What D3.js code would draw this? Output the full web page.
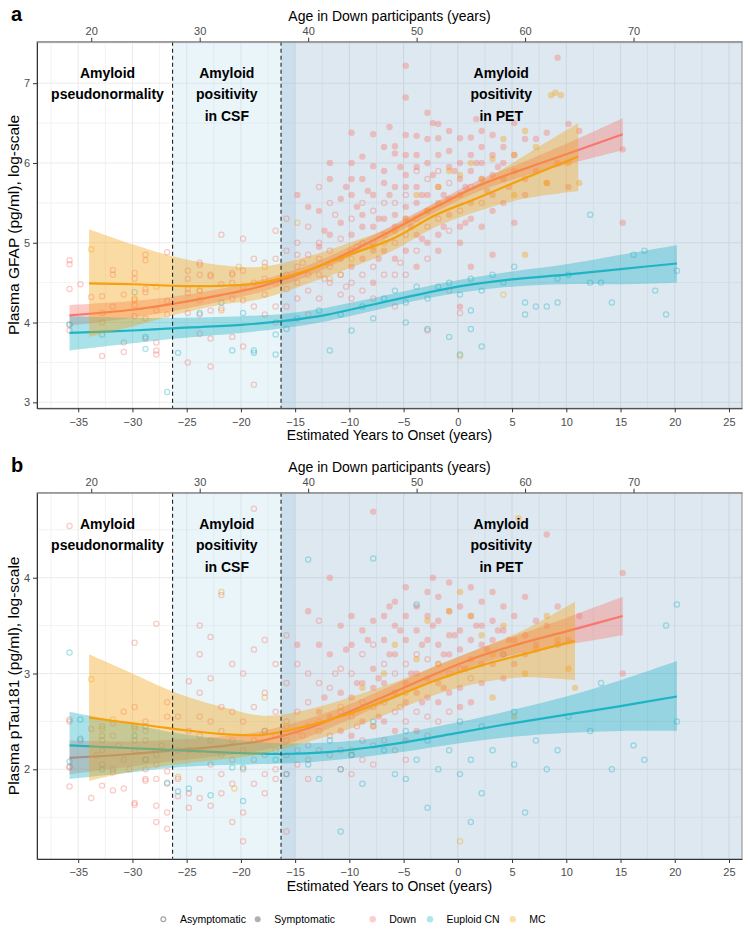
<!DOCTYPE html>
<html>
<head>
<meta charset="utf-8">
<script src="https://cdn.jsdelivr.net/npm/d3@7"></script>
<style>
  body { margin: 0; background: #fff; }
  text { font-family: "Liberation Sans", Arial, Helvetica, sans-serif; }
</style>
</head>
<body>
<svg id="chart" width="750" height="938"></svg>
<script>
// ---- data (estimated years to onset, value, symptomatic 0/1) ----
const onsetAge = 53.8;
const eyoTicks = [-35, -30, -25, -20, -15, -10, -5, 0, 5, 10, 15, 20, 25];
const ageTicks = [20, 30, 40, 50, 60, 70];
const stageCuts = [-26.3, -16.3];
const groups = ["Down", "Euploid CN", "MC"];
const groupColors = ["#F8766D", "#1FB4C4", "#F5A00F"];

const gfapDown = [
[-35.8,4.78,0],[-35.8,4.73,0],[-35.8,4.42,0],[-35.8,3.97,0],[-35.8,3.9,0],[-34.8,4.48,0],[-33.8,4.32,0],
[-32.8,4.33,0],[-32.8,3.58,0],[-32.8,4.12,0],[-31.8,4.66,0],[-31.8,4.6,0],[-31.8,4.2,0],[-30.8,4.35,0],
[-30.8,3.63,0],[-30.8,3.75,0],[-29.8,4.62,0],[-29.8,4.55,0],[-29.8,4.28,0],[-29.8,4.22,0],[-29.8,4.08,0],
[-28.8,4.85,0],[-28.8,4.78,0],[-28.8,4.42,0],[-28.8,4.38,0],[-28.8,4.05,0],[-28.8,3.8,0],[-27.8,4.15,0],
[-27.8,3.75,0],[-27.8,3.6,0],[-27.8,3.65,0],[-26.8,4.88,0],[-26.8,4.1,0],[-26.8,4.27,0],
[-24.9,4.65,0],[-24.9,4.55,0],[-24.9,4.37,0],[-24.9,4.12,0],[-24.9,3.5,0],[-24.9,4.42,0],
[-23.8,4.75,0],[-23.8,4.72,0],[-23.8,4.6,0],[-23.8,4.4,0],[-23.8,4.28,0],[-23.8,3.86,0],[-23.8,4.1,0],
[-22.8,4.6,0],[-22.8,4.58,0],[-22.8,4.15,0],[-22.8,3.8,0],[-22.8,3.45,0],
[-21.8,4.48,0],[-21.8,4.18,0],[-21.8,5.1,0],[-20.8,4.62,0],[-20.8,4.6,0],[-20.8,4.5,0],[-20.8,3.82,0],[-20.8,4.3,0],
[-19.8,4.65,0],[-19.8,4.28,0],[-19.8,3.7,0],[-19.8,5.05,0],[-19.8,4.45,0],[-18.8,4.5,0],[-18.8,3.22,0],
[-18.8,4.2,0],[-18.8,4.8,0],[-17.8,4.75,0],[-17.8,4.55,0],[-17.8,4.1,0],[-17.8,4.35,0],
[-16.8,4.8,0],[-16.8,4.5,0],[-16.8,4.2,0],[-16.8,4.0,0],[-16.8,5.15,0],
[-15.8,4.9,0],[-15.8,4.6,0],[-15.8,4.42,0],[-15.8,4.2,0],[-15.8,5.3,0],
[-14.8,5.0,0],[-14.8,4.7,0],[-14.8,4.5,0],[-14.8,4.3,0],[-14.8,5.6,1],[-14.8,4.85,0],[-14.3,4.75,0],
[-13.8,5.2,0],[-13.8,4.85,0],[-13.8,4.6,0],[-13.8,4.4,0],[-13.8,4.1,0],[-13.8,5.45,1],
[-12.8,5.4,1],[-12.8,5.0,0],[-12.8,4.8,0],[-12.8,4.6,0],[-12.8,4.3,0],[-12.8,5.7,0],[-12.8,4.95,1],
[-12.3,5.15,1],[-12.3,4.55,0],
[-11.8,5.8,1],[-11.8,5.5,0],[-11.8,5.1,1],[-11.8,4.9,0],[-11.8,4.7,0],[-11.8,4.5,0],[-11.8,6.0,1],[-11.3,5.35,0],
[-10.8,5.25,1],[-10.8,5.05,0],[-10.8,4.8,1],[-10.8,4.6,0],[-10.8,4.35,0],[-10.8,5.55,1],[-10.3,5.7,1],[-10.3,4.45,0],
[-9.8,6.38,1],[-9.8,6.0,1],[-9.8,5.6,1],[-9.8,5.3,0],[-9.8,5.1,1],[-9.8,4.9,0],[-9.8,4.7,1],[-9.8,4.5,0],[-9.8,4.3,0],[-9.8,5.8,1],
[-9.3,5.45,1],[-9.3,4.95,0],
[-8.8,6.08,1],[-8.8,5.8,1],[-8.8,5.5,0],[-8.8,5.2,1],[-8.8,5.0,0],[-8.8,4.8,1],[-8.8,4.6,0],[-8.8,4.4,0],[-8.8,5.35,1],[-8.3,5.65,1],
[-7.8,6.36,1],[-7.8,5.96,1],[-7.8,5.6,1],[-7.8,5.4,0],[-7.8,5.2,1],[-7.8,5.0,0],[-7.8,4.9,1],[-7.8,4.7,0],[-7.8,4.5,1],[-7.8,4.3,0],
[-7.3,5.3,1],[-7.3,4.8,1],
[-6.8,6.2,1],[-6.8,5.75,1],[-6.8,5.5,0],[-6.8,5.3,1],[-6.8,5.1,0],[-6.8,4.9,1],[-6.8,4.6,0],[-6.8,5.9,1],[-6.3,5.6,1],[-6.3,6.45,1],
[-5.8,6.21,1],[-5.8,6.12,1],[-5.8,5.7,1],[-5.8,5.5,0],[-5.8,5.35,1],[-5.8,5.2,1],[-5.8,5.0,0],[-5.8,4.8,1],[-5.8,4.6,0],[-5.8,4.2,0],
[-5.3,5.95,1],[-5.3,4.75,0],
[-4.8,7.22,1],[-4.8,6.82,1],[-4.8,6.35,1],[-4.8,6.1,1],[-4.8,5.85,1],[-4.8,5.6,0],[-4.8,5.45,1],[-4.8,5.3,1],[-4.8,5.1,0],[-4.8,4.9,1],[-4.8,4.6,0],[-4.8,5.7,1],
[-4.3,5.2,1],
[-3.8,6.34,1],[-3.8,6.1,1],[-3.8,5.9,0],[-3.8,5.7,1],[-3.8,5.5,1],[-3.8,5.3,0],[-3.8,5.1,1],[-3.8,4.9,0],[-3.8,4.7,1],[-3.8,5.95,1],
[-3.3,5.6,1],[-3.3,5.05,1],
[-2.8,6.63,1],[-2.8,6.3,1],[-2.8,6.0,1],[-2.8,5.8,0],[-2.8,5.6,1],[-2.8,5.4,1],[-2.8,5.2,0],[-2.8,5.0,1],[-2.8,4.8,0],[-2.8,3.9,0],
[-2.3,5.85,1],[-2.3,6.5,1],
[-1.8,6.49,1],[-1.8,6.31,1],[-1.8,6.1,1],[-1.8,5.9,0],[-1.8,5.7,1],[-1.8,5.5,1],[-1.8,5.3,0],[-1.8,5.1,1],[-1.8,4.9,1],
[-1.3,5.6,1],[-1.3,5.2,1],
[-0.8,6.4,1],[-0.8,6.15,1],[-0.8,5.95,1],[-0.8,5.75,0],[-0.8,5.55,1],[-0.8,5.35,1],[-0.8,5.15,0],[-0.8,4.4,0],[-0.3,5.9,1],
[0.2,6.31,1],[0.2,6.0,1],[0.2,5.8,1],[0.2,5.6,1],[0.2,5.4,0],[0.2,5.2,1],[0.2,5.0,1],[0.2,4.12,0],[0.2,4.2,1],
[0.7,5.7,1],[0.7,5.25,1],
[1.2,6.32,1],[1.2,6.1,1],[1.2,5.9,1],[1.2,5.7,0],[1.2,5.5,1],[1.2,5.3,1],[1.2,4.7,1],[1.7,6.0,1],[1.7,6.55,1],
[2.2,6.4,1],[2.2,6.2,1],[2.2,6.0,1],[2.2,5.8,1],[2.2,5.5,0],[2.2,5.2,1],[2.7,5.65,1],
[3.2,6.35,1],[3.2,6.1,1],[3.2,5.85,1],[3.2,5.6,1],[3.2,5.4,1],[3.2,4.85,1],[3.7,5.95,1],
[4.2,6.2,1],[4.2,6.0,1],[4.2,5.8,1],[4.2,5.5,1],[4.7,5.7,1],[5.2,6.5,1],[5.2,6.1,1],[5.2,5.9,1],[5.2,5.25,1],
[6.2,6.3,1],[6.2,5.8,1],[6.2,5.6,1],[7.2,6.3,1],[7.2,5.9,1],[8.2,6.38,1],[8.2,5.75,1],
[9.2,7.32,1],[9.2,6.0,1],[10.2,6.49,1],[10.2,5.7,1],[11.2,6.4,1],[15.2,6.17,1],[15.2,5.25,1]
];
const gfapEuploid = [
[-35.8,3.98,0],[-32.8,3.85,0],[-29.8,4.38,0],[-28.8,3.67,0],[-28.8,3.82,0],[-26.8,3.13,0],[-25.8,3.62,0],
[-23.8,4.12,0],[-21.8,4.25,0],[-20.8,3.65,0],[-19.8,4.12,0],[-18.8,3.65,0],[-18.8,3.62,0],[-16.8,3.6,0],
[-16.8,3.85,0],[-15.8,3.92,0],[-14.8,4.05,0],[-12.8,4.15,0],[-11.8,3.65,0],[-10.8,4.1,0],[-9.8,3.9,0],
[-8.8,4.2,0],[-7.8,4.05,0],[-6.8,4.3,0],[-5.8,4.4,0],[-4.8,4.25,0],[-4.8,4.0,0],[-3.8,4.45,0],[-2.8,4.3,0],
[-2.8,3.92,0],[-1.8,4.45,0],[-0.8,4.5,0],[-0.8,3.82,0],[0.2,4.35,0],[0.2,3.6,0],[1.2,4.15,0],[1.2,3.92,0],
[1.2,4.55,0],[2.2,4.4,0],[2.2,3.7,0],[3.2,4.6,0],[4.2,4.5,0],[5.2,4.7,0],[6.2,4.25,0],[6.2,4.1,0],
[7.2,4.2,0],[8.2,4.2,0],[9.2,4.25,0],[9.2,4.55,0],[10.2,4.6,0],[12.2,4.5,0],[12.2,5.35,0],[13.2,4.5,0],
[14.2,4.25,0],[16.2,4.85,0],[17.2,4.9,0],[19.2,4.1,0],[20.2,4.65,0],[18.2,4.4,0]
];
const gfapMC = [
[-33.8,4.92,0],[-32.8,4.0,0],[-29.8,4.3,0],[-27.8,4.45,0],[-23.8,4.4,0],[-21.8,4.15,0],[-20.2,4.7,0],
[-17.8,4.7,0],[-14.8,5.25,0],[-11.8,4.55,0],[-10.8,4.6,0],[-9.8,4.8,0],[-7.8,4.95,1],[-6.8,5.0,0],
[-5.8,5.15,1],[-4.8,5.3,1],[-3.8,5.6,1],[-2.8,5.4,1],[-1.8,5.7,1],[-0.8,5.9,1],[0.2,5.85,1],[1.2,6.0,1],
[2.2,5.8,1],[3.2,6.05,1],[4.2,6.3,1],[5.2,6.1,1],[5.2,5.6,1],[6.2,6.4,1],[7.2,6.2,1],[8.2,5.75,1],
[8.6,6.85,1],[9.0,6.88,1],[9.5,6.85,1],[10.2,6.0,1],[11.2,5.75,1],[0.2,3.58,0],[4.2,4.35,0],[6.2,4.85,1]
];

const ptauDown = [
[-35.8,4.54,0],[-35.8,2.52,0],[-35.8,2.5,0],[-35.8,2.03,0],[-35.8,2.02,0],[-35.8,1.82,0],[-34.8,2.3,0],
[-33.8,2.42,0],[-33.8,1.7,0],[-33.3,2.15,0],[-32.8,2.45,0],[-32.8,2.35,0],[-32.8,2.3,0],[-32.8,2.2,0],[-32.8,2.05,0],[-32.8,1.83,0],
[-31.8,2.48,0],[-31.8,2.35,0],[-31.8,2.0,0],[-31.8,1.97,0],[-31.8,1.78,0],[-31.3,2.25,0],[-30.8,2.6,0],[-30.8,2.1,0],[-30.8,1.8,0],
[-30.3,2.0,0],
[-29.8,2.65,0],[-29.8,2.45,0],[-29.8,2.3,0],[-29.8,2.2,0],[-29.8,1.65,0],[-29.8,1.63,0],[-29.8,3.32,0],
[-28.8,2.5,0],[-28.8,2.4,0],[-28.8,2.3,0],[-28.8,2.1,0],[-28.8,1.88,0],[-28.8,1.9,0],[-28.8,2.0,0],
[-27.8,2.05,0],[-27.8,1.9,0],[-27.8,1.62,0],[-27.8,1.45,0],[-27.8,3.52,0],[-27.3,2.25,0],
[-26.8,2.55,0],[-26.8,1.98,0],[-26.8,1.85,0],[-26.8,1.55,0],[-26.8,1.38,0],[-26.8,2.7,0],
[-25.8,2.55,0],[-25.8,2.2,0],[-25.8,1.9,0],[-25.8,1.72,0],[-24.8,2.92,0],[-24.8,2.4,0],[-24.8,2.2,0],[-24.8,1.75,0],[-24.8,1.6,0],
[-23.8,3.5,0],[-23.8,3.2,0],[-23.8,2.55,0],[-23.8,2.35,0],[-23.8,2.2,0],[-23.8,1.9,0],[-23.8,1.7,0],[-23.8,2.8,0],
[-22.8,3.38,0],[-22.8,2.95,0],[-22.8,2.5,0],[-22.8,2.3,0],[-22.8,2.05,0],[-22.8,1.62,0],
[-21.8,3.82,0],[-21.8,2.65,0],[-21.8,2.4,0],[-21.8,2.15,0],[-21.8,1.95,0],[-21.8,1.75,0],
[-20.8,2.6,0],[-20.8,2.3,0],[-20.8,2.1,0],[-20.8,1.85,0],[-20.8,1.45,0],[-20.8,3.1,0],
[-19.8,3.0,0],[-19.8,2.5,0],[-19.8,2.2,0],[-19.8,2.0,0],[-19.8,1.55,0],[-19.8,1.25,0],
[-18.8,4.72,0],[-18.8,3.25,0],[-18.8,2.65,0],[-18.8,2.3,0],[-18.8,2.1,0],[-18.8,1.85,0],
[-17.8,3.35,0],[-17.8,2.8,0],[-17.8,2.4,0],[-17.8,2.15,0],[-17.8,1.95,0],[-17.8,1.75,0],
[-16.8,3.1,0],[-16.8,2.6,0],[-16.8,2.35,0],[-16.8,2.2,0],[-16.8,2.0,0],[-16.8,1.9,0],
[-15.8,2.9,0],[-15.8,2.5,0],[-15.8,2.3,0],[-15.8,2.15,0],[-15.8,1.95,0],[-15.8,3.4,0],[-15.8,1.35,0],
[-14.8,3.1,0],[-14.8,2.6,0],[-14.8,2.4,0],[-14.8,2.2,0],[-14.8,2.05,0],[-14.8,3.3,1],[-14.3,2.35,0],
[-13.8,3.65,1],[-13.8,3.0,0],[-13.8,2.7,0],[-13.8,2.45,0],[-13.8,2.25,0],[-13.8,2.1,0],[-13.8,1.9,0],
[-12.8,3.3,1],[-12.8,2.9,0],[-12.8,2.6,1],[-12.8,2.4,0],[-12.8,2.2,0],[-12.8,3.55,0],[-12.3,2.75,1],
[-11.8,4.0,1],[-11.8,3.2,1],[-11.8,2.85,0],[-11.8,2.55,1],[-11.8,2.35,0],[-11.8,2.15,0],[-11.3,3.0,0],
[-10.8,3.5,1],[-10.8,3.05,0],[-10.8,2.8,1],[-10.8,2.6,0],[-10.8,2.4,1],[-10.8,2.2,0],[-10.8,2.0,0],[-10.3,3.25,1],
[-9.8,3.6,1],[-9.8,3.3,1],[-9.8,3.0,0],[-9.8,2.75,1],[-9.8,2.55,0],[-9.8,2.35,1],[-9.8,2.15,0],[-9.8,1.95,0],
[-9.3,2.9,1],[-9.3,2.45,0],
[-8.8,3.45,1],[-8.8,3.2,0],[-8.8,2.9,1],[-8.8,2.7,0],[-8.8,2.5,1],[-8.8,2.3,0],[-8.8,2.1,0],[-8.3,3.35,1],
[-7.8,4.69,1],[-7.8,3.55,1],[-7.8,3.3,0],[-7.8,3.05,1],[-7.8,2.85,1],[-7.8,2.65,0],[-7.8,2.45,1],[-7.8,2.25,0],[-7.8,2.05,0],
[-7.3,2.95,1],[-7.3,2.55,1],
[-6.8,3.6,1],[-6.8,3.35,1],[-6.8,3.1,0],[-6.8,2.9,1],[-6.8,2.7,0],[-6.8,2.5,1],[-6.8,2.3,0],[-6.3,3.2,1],[-6.3,3.7,1],
[-5.8,3.75,1],[-5.8,3.5,1],[-5.8,3.2,1],[-5.8,3.0,0],[-5.8,2.8,1],[-5.8,2.6,0],[-5.8,2.4,1],[-5.8,2.2,0],
[-5.3,3.45,1],[-5.3,2.65,0],
[-4.8,3.9,1],[-4.8,3.6,1],[-4.8,3.35,1],[-4.8,3.1,0],[-4.8,2.9,1],[-4.8,2.7,1],[-4.8,2.5,0],[-4.8,2.3,1],[-4.8,2.1,0],
[-4.3,3.0,1],
[-3.8,3.7,1],[-3.8,3.45,1],[-3.8,3.2,0],[-3.8,3.0,1],[-3.8,2.8,1],[-3.8,2.6,0],[-3.8,2.4,1],[-3.3,3.3,1],[-3.3,2.7,1],
[-2.8,3.85,1],[-2.8,3.6,1],[-2.8,3.35,1],[-2.8,3.15,0],[-2.8,2.95,1],[-2.8,2.75,1],[-2.8,2.55,0],[-2.8,2.35,0],
[-2.3,3.5,1],[-2.3,4.0,1],
[-1.8,3.8,1],[-1.8,3.55,1],[-1.8,3.3,1],[-1.8,3.1,0],[-1.8,2.9,1],[-1.8,2.7,1],[-1.8,2.5,0],[-1.3,3.2,1],[-1.3,2.85,1],
[-0.8,3.95,1],[-0.8,3.65,1],[-0.8,3.4,1],[-0.8,3.2,1],[-0.8,3.0,0],[-0.8,2.8,1],[-0.8,2.6,0],[-0.3,3.4,1],
[0.2,3.7,1],[0.2,3.45,1],[0.2,3.25,1],[0.2,3.05,0],[0.2,2.85,1],[0.2,2.65,1],[0.7,3.05,1],
[1.2,3.9,1],[1.2,3.6,1],[1.2,3.35,1],[1.2,3.15,1],[1.2,2.95,0],[1.2,2.7,1],[1.7,3.5,1],
[2.2,3.75,1],[2.2,3.5,1],[2.2,3.3,1],[2.2,3.1,1],[2.2,2.9,1],[2.7,3.25,1],[3.2,3.85,1],[3.2,3.55,1],[3.2,3.35,1],[3.2,3.1,1],
[3.7,3.45,1],
[4.2,3.7,1],[4.2,3.45,1],[4.2,3.2,1],[4.2,2.95,1],[4.7,3.35,1],[5.2,3.6,1],[5.2,3.35,1],[5.2,3.1,1],
[6.2,3.8,1],[6.2,3.4,1],[6.2,3.2,1],[7.2,3.55,1],[7.2,3.3,1],[8.2,4.45,1],[8.2,3.5,1],
[9.2,3.7,1],[9.2,3.3,1],[10.2,3.35,1],[11.2,3.6,1],[15.2,4.05,1],[15.2,3.0,1]
];
const ptauEuploid = [
[-35.8,3.22,0],[-35.8,2.08,0],[-34.8,2.32,0],[-34.8,2.52,0],[-32.8,2.0,0],[-29.8,2.35,0],[-28.8,2.45,0],
[-28.8,2.1,0],[-27.8,2.15,0],[-26.8,1.86,0],[-25.8,1.77,0],[-24.8,1.8,0],[-22.8,1.73,0],[-20.8,2.02,0],
[-19.8,1.67,0],[-19.8,2.02,0],[-17.8,2.4,0],[-16.8,2.1,0],[-15.8,1.95,0],[-13.8,4.19,0],[-13.8,2.05,0],
[-12.8,1.9,0],[-11.8,2.3,0],[-10.8,2.0,0],[-10.8,1.35,0],[-9.8,2.15,0],[-8.8,1.85,0],[-7.8,4.2,0],
[-7.8,2.5,0],[-6.8,2.2,0],[-5.8,1.95,0],[-4.8,2.4,0],[-4.8,1.9,0],[-3.8,3.72,0],[-3.8,2.1,0],[-2.8,1.6,0],
[-2.8,2.3,0],[-1.8,2.0,0],[-0.8,2.2,0],[0.2,1.95,0],[0.2,2.5,0],[1.2,1.45,0],[1.2,2.1,0],[2.2,1.75,0],
[2.2,2.45,0],[3.2,2.2,0],[4.2,3.2,0],[5.2,2.05,0],[5.2,2.6,0],[6.2,1.55,0],[7.2,2.3,0],[8.2,2.0,0],
[9.2,2.2,0],[10.2,2.55,0],[12.2,2.4,0],[13.2,2.9,0],[14.2,2.0,0],[16.2,2.25,0],[17.2,2.1,0],[19.2,3.5,0],
[20.2,3.72,0],[20.2,2.5,0]
];
const ptauMC = [
[-33.8,2.94,0],[-32.8,2.42,0],[-31.8,2.52,0],[-29.8,2.42,0],[-25.8,1.92,0],[-21.8,3.85,0],[-20.6,1.8,0],
[-17.8,2.75,0],[-15.8,2.45,0],[-12.8,2.5,0],[-10.8,2.65,0],[-9.8,2.2,0],[-8.8,2.85,1],[-7.8,2.45,0],
[-6.8,3.0,1],[-5.8,3.3,1],[-4.8,2.8,1],[-3.8,3.15,1],[-2.8,3.55,1],[-1.8,3.1,1],[-0.8,3.65,1],[0.2,1.25,0],
[0.2,3.85,1],[1.2,3.6,1],[2.2,3.4,1],[3.2,3.2,1],[3.2,2.75,1],[4.2,3.5,1],[5.2,2.55,1],[5.6,4.62,1],
[6.2,3.0,1],[7.2,3.25,1],[8.2,3.6,1],[9.2,3.35,1],[10.2,3.05,1],[10.8,2.85,1]
];

// smooth fits: [eyo, fit, lower, upper]
const gfapDownFit = [[-35.8,4.09,3.96,4.22],[-30,4.16,4.06,4.27],[-26,4.24,4.15,4.33],[-22,4.34,4.26,4.42],
[-18,4.46,4.39,4.54],[-14,4.64,4.57,4.71],[-10,4.88,4.82,4.95],[-6,5.16,5.1,5.22],[-2,5.45,5.39,5.51],
[2,5.72,5.65,5.79],[6,5.92,5.83,6.01],[10,6.11,5.98,6.24],[15.2,6.36,6.16,6.56]];
const gfapEuploidFit = [[-35.8,3.87,3.65,4.08],[-30,3.9,3.74,4.06],[-26,3.93,3.8,4.06],[-20,3.97,3.87,4.08],
[-16,4.02,3.93,4.11],[-12,4.1,4.02,4.19],[-8,4.22,4.14,4.3],[-4,4.34,4.27,4.42],[0,4.45,4.37,4.53],
[5,4.54,4.45,4.64],[10,4.6,4.48,4.73],[15,4.67,4.48,4.85],[20.2,4.74,4.5,4.97]];
const gfapMCFit = [[-34,4.49,3.82,5.17],[-30,4.48,3.95,4.98],[-26,4.46,4.1,4.82],[-22,4.46,4.22,4.72],
[-18,4.5,4.3,4.7],[-14,4.65,4.48,4.82],[-10,4.85,4.68,5.0],[-6,5.05,4.9,5.2],[-2,5.35,5.2,5.5],
[2,5.57,5.4,5.75],[6,5.8,5.55,6.08],[11.1,6.08,5.65,6.5]];

const ptauDownFit = [[-35.8,2.12,1.95,2.3],[-30,2.16,2.03,2.29],[-26,2.2,2.09,2.31],[-22,2.24,2.14,2.34],
[-18,2.3,2.2,2.4],[-14,2.42,2.33,2.52],[-10,2.6,2.52,2.68],[-6,2.8,2.73,2.88],[-2,3.0,2.93,3.08],
[2,3.18,3.1,3.26],[6,3.32,3.22,3.42],[10,3.44,3.3,3.58],[15.2,3.6,3.4,3.8]];
const ptauEuploidFit = [[-35.8,2.25,1.9,2.6],[-30,2.22,1.97,2.47],[-26,2.2,2.02,2.38],[-20,2.17,2.05,2.3],
[-16,2.16,2.06,2.27],[-12,2.18,2.09,2.28],[-8,2.23,2.14,2.32],[-4,2.3,2.2,2.4],[0,2.38,2.27,2.49],
[5,2.48,2.34,2.62],[10,2.57,2.38,2.76],[15,2.66,2.4,2.93],[20.2,2.76,2.4,3.13]];
const ptauMCFit = [[-34,2.54,1.88,3.2],[-30,2.48,1.98,3.0],[-26,2.42,2.05,2.8],[-22,2.37,2.1,2.66],
[-18,2.36,2.16,2.56],[-14,2.45,2.28,2.62],[-10,2.58,2.42,2.75],[-6,2.75,2.6,2.9],[-2,2.93,2.78,3.08],
[2,3.08,2.9,3.26],[6,3.2,2.96,3.45],[10.8,3.34,2.93,3.75]];

// ---- drawing ----
const svg = d3.select("#chart");
const x = d3.scaleLinear().domain([-38.8, 26.2]).range([37, 742]);
const minus = d => d < 0 ? "\u2212" + (-d) : String(d);

const panels = [
  { letter: "a", top: 41.7, bottom: 408.3, domain: [2.925, 7.52], ticks: [3,4,5,6,7], minor: [3.5,4.5,5.5,6.5,7.5],
    title: "Plasma GFAP (pg/ml), log-scale",
    pts: [gfapDown, gfapEuploid, gfapMC], fits: [gfapDownFit, gfapEuploidFit, gfapMCFit] },
  { letter: "b", top: 492.7, bottom: 859, domain: [1.064, 4.887], ticks: [2,3,4], minor: [1.5,2.5,3.5,4.5],
    title: "Plasma pTau181 (pg/ml), log-scale",
    pts: [ptauDown, ptauEuploid, ptauMC], fits: [ptauDownFit, ptauEuploidFit, ptauMCFit] }
];

const xMinor = d3.range(-37.5, 26, 5);
const x0 = x.range()[0], x1 = x.range()[1];

panels.forEach((p, pi) => {
  const y = d3.scaleLinear().domain(p.domain).range([p.bottom, p.top]);
  const g = svg.append("g");
  const clipId = "clip" + pi;
  svg.append("clipPath").attr("id", clipId).append("rect")
    .attr("x", x0).attr("y", p.top).attr("width", x1 - x0).attr("height", p.bottom - p.top);

  // grid
  const grid = g.append("g").attr("stroke", "#ebebeb");
  grid.selectAll(".vm").data(xMinor).join("line")
    .attr("x1", d => x(d)).attr("x2", d => x(d)).attr("y1", p.top).attr("y2", p.bottom).attr("stroke-width", 0.6);
  grid.selectAll(".hm").data(p.minor).join("line")
    .attr("x1", x0).attr("x2", x1).attr("y1", d => y(d)).attr("y2", d => y(d)).attr("stroke-width", 0.6);
  grid.selectAll(".vM").data(eyoTicks).join("line")
    .attr("x1", d => x(d)).attr("x2", d => x(d)).attr("y1", p.top).attr("y2", p.bottom).attr("stroke-width", 1.1);
  grid.selectAll(".hM").data(p.ticks).join("line")
    .attr("x1", x0).attr("x2", x1).attr("y1", d => y(d)).attr("y2", d => y(d)).attr("stroke-width", 1.1);

  // stage shading
  g.append("rect").attr("x", x(stageCuts[0])).attr("width", x(-15) - x(stageCuts[0]))
    .attr("y", p.top).attr("height", p.bottom - p.top).attr("fill", "lightblue").attr("fill-opacity", 0.25);
  g.append("rect").attr("x", x(stageCuts[1])).attr("width", x1 - x(stageCuts[1]))
    .attr("y", p.top).attr("height", p.bottom - p.top).attr("fill", "steelblue").attr("fill-opacity", 0.18);

  const plot = g.append("g").attr("clip-path", `url(#${clipId})`);

  // points
  p.pts.forEach((arr, gi) => {
    plot.append("g").selectAll("circle").data(arr).join("circle")
      .attr("cx", d => x(d[0])).attr("cy", d => y(d[1]))
      .attr("r", d => d[2] ? 3.2 : 2.6)
      .attr("fill", d => d[2] ? groupColors[gi] : "none")
      .attr("stroke", d => d[2] ? "none" : groupColors[gi])
      .attr("stroke-width", 1.25)
      .attr("opacity", 0.38);
  });

  // smooth ribbons + lines
  const area = d3.area().x(d => x(d[0])).y0(d => y(d[2])).y1(d => y(d[3])).curve(d3.curveCatmullRom);
  const line = d3.line().x(d => x(d[0])).y(d => y(d[1])).curve(d3.curveCatmullRom);
  p.fits.forEach((f, gi) => {
    plot.append("path").attr("d", area(f)).attr("fill", groupColors[gi]).attr("fill-opacity", 0.38);
    plot.append("path").attr("d", line(f)).attr("fill", "none").attr("stroke", groupColors[gi]).attr("stroke-width", 2.2);
  });

  // dashed stage lines
  g.selectAll(".cut").data(stageCuts).join("line")
    .attr("x1", d => x(d)).attr("x2", d => x(d)).attr("y1", p.top).attr("y2", p.bottom)
    .attr("stroke", "#222").attr("stroke-width", 1.1).attr("stroke-dasharray", "4,3");

  // stage labels
  const labels = [
    { at: -32.3, lines: ["Amyloid", "pseudonormality"] },
    { at: -21.3, lines: ["Amyloid", "positivity", "in CSF"] },
    { at: 4.0, lines: ["Amyloid", "positivity", "in PET"] }
  ];
  labels.forEach(l => {
    const t = g.append("text").attr("text-anchor", "middle").attr("font-weight", "bold")
      .attr("font-size", 14).attr("fill", "#000");
    l.lines.forEach((s, i) => {
      t.append("tspan").attr("x", x(l.at)).attr("y", p.top + 36 + i * 21.5).text(s);
    });
  });

  // border
  g.append("rect").attr("x", x0).attr("y", p.top).attr("width", x1 - x0).attr("height", p.bottom - p.top)
    .attr("fill", "none").attr("stroke", "#8a8a8a").attr("stroke-width", 1);

  // axes
  const axB = g.append("g").attr("transform", `translate(0,${p.bottom})`)
    .call(d3.axisBottom(x).tickValues(eyoTicks).tickFormat(minus).tickSize(4).tickSizeOuter(0));
  const axL = g.append("g").attr("transform", `translate(${x0},0)`)
    .call(d3.axisLeft(y).tickValues(p.ticks).tickFormat(d3.format("d")).tickSize(4).tickSizeOuter(0));
  const age = d3.scaleLinear().domain(x.domain().map(d => d + onsetAge)).range(x.range());
  const axT = g.append("g").attr("transform", `translate(0,${p.top})`)
    .call(d3.axisTop(age).tickValues(ageTicks).tickSize(4).tickSizeOuter(0));
  [axB, axL, axT].forEach(a => {
    a.select(".domain").attr("stroke", "#333");
    a.selectAll(".tick line").attr("stroke", "#333");
    a.selectAll(".tick text").attr("fill", "#4d4d4d").attr("font-size", 11)
      .attr("font-family", '"Liberation Sans", Arial, sans-serif');
  });
  axT.select(".domain").attr("stroke", "#8a8a8a");
  axB.selectAll(".tick text").attr("dy", "0.95em");

  // titles
  g.append("text").attr("x", (x0 + x1) / 2).attr("y", p.bottom + 32).attr("text-anchor", "middle")
    .attr("font-size", 14).text("Estimated Years to Onset (years)");
  g.append("text").attr("x", (x0 + x1) / 2).attr("y", p.top - 20.5).attr("text-anchor", "middle")
    .attr("font-size", 14).text("Age in Down participants (years)");
  g.append("text").attr("transform", `translate(18.5,${(p.top + p.bottom) / 2}) rotate(-90)`)
    .attr("text-anchor", "middle").attr("font-size", 15.5).text(p.title);
  g.append("text").attr("x", 11).attr("y", p.top - 21).attr("font-size", 20).attr("font-weight", "bold")
    .text(p.letter);
});

// legend
const legY = 919.3;
const leg = svg.append("g");
leg.append("circle").attr("cx", 163.3).attr("cy", legY).attr("r", 2.4)
  .attr("fill", "none").attr("stroke", "#a6a6a6").attr("stroke-width", 1.2);
leg.append("text").attr("x", 180).attr("y", legY + 3.8).attr("font-size", 10.5).text("Asymptomatic");
leg.append("circle").attr("cx", 257.7).attr("cy", legY).attr("r", 3).attr("fill", "#b0b0b0");
leg.append("text").attr("x", 274.3).attr("y", legY + 3.8).attr("font-size", 10.5).text("Symptomatic");
const legX = [372.7, 430, 512.7];
groups.forEach((name, i) => {
  leg.append("circle").attr("cx", legX[i]).attr("cy", legY).attr("r", 3.2)
    .attr("fill", groupColors[i]).attr("opacity", 0.35);
  leg.append("text").attr("x", legX[i] + 16.5).attr("y", legY + 3.8).attr("font-size", 10.5).text(name);
});
</script>
</body>
</html>
